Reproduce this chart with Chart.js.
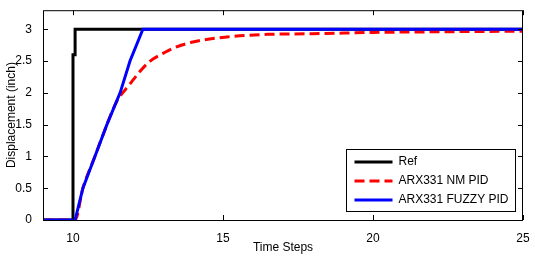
<!DOCTYPE html>
<html>
<head>
<meta charset="utf-8">
<script src="https://cdn.jsdelivr.net/npm/chart.js@4.4.1/dist/chart.umd.min.js"></script>
<style>
  html, body { margin: 0; padding: 0; background: #fff; }
  #wrap { width: 535px; height: 259px; }
</style>
</head>
<body>
<div id="wrap"><canvas id="chart" width="535" height="259"></canvas></div>
<script>
// values
const refX = [9, 10, 10, 10.07, 10.07, 25];
const refY = [0, 0, 2.6, 2.6, 3, 3];

const nmX = [9, 10.07, 10.33, 10.73, 11.13, 11.3, 11.47, 11.9, 12.2, 12.57, 13.0, 13.33, 14.0, 15.13, 16.5, 18, 20, 22, 25];
const nmY = [0, 0, 0.5, 1.0, 1.5, 1.7, 1.875, 2.14, 2.32, 2.5, 2.62, 2.7, 2.8, 2.88, 2.92, 2.93, 2.95, 2.96, 2.97];

const fuzzyX = [9, 10.07, 10.33, 10.73, 11.13, 11.57, 11.9, 12.33, 25];
const fuzzyY = [0, 0, 0.5, 1.0, 1.5, 2.0, 2.5, 3.0, 3.0];

const xTicks = [10, 15, 20, 25];
const yTicks = [0, 0.5, 1, 1.5, 2, 2.5, 3];

const FONT = "Liberation Sans, Arial, sans-serif";

const toPts = (xs, ys) => xs.map((x, i) => ({ x: x, y: ys[i] }));

// MATLAB style frame, inward ticks and boxed legend
const matlabFrame = {
  id: "matlabFrame",
  afterDraw(chart) {
    const { ctx, chartArea: a, scales } = chart;
    ctx.save();
    ctx.strokeStyle = "#000";
    ctx.lineWidth = 1;
    ctx.strokeRect(a.left + 0.5, a.top + 0.5, a.right - a.left - 1, a.bottom - a.top);

    ctx.beginPath();
    xTicks.forEach(v => {
      const px = Math.round(scales.x.getPixelForValue(v)) + 0.5;
      ctx.moveTo(px, a.bottom); ctx.lineTo(px, a.bottom - 5);
      ctx.moveTo(px, a.top); ctx.lineTo(px, a.top + 5);
    });
    yTicks.forEach(v => {
      const py = Math.round(scales.y.getPixelForValue(v)) + 0.5;
      ctx.moveTo(a.left, py); ctx.lineTo(a.left + 5, py);
      ctx.moveTo(a.right, py); ctx.lineTo(a.right - 5, py);
    });
    ctx.stroke();

    // legend
    const bx = 346.5, by = 149.5, bw = 169, bh = 62;
    ctx.fillStyle = "#fff";
    ctx.fillRect(bx, by, bw, bh);
    ctx.strokeRect(bx, by, bw, bh);
    ctx.font = "12px " + FONT;
    ctx.textBaseline = "middle";
    chart.data.datasets.forEach((ds, i) => {
      const y = by + 12.5 + i * 19;
      ctx.beginPath();
      ctx.strokeStyle = ds.borderColor;
      ctx.lineWidth = 3;
      ctx.setLineDash(ds.borderDash || []);
      ctx.moveTo(bx + 8, y); ctx.lineTo(bx + 46, y);
      ctx.stroke();
      ctx.setLineDash([]);
      ctx.fillStyle = "#000";
      ctx.fillText(ds.label, bx + 52, y);
    });
    ctx.restore();
  }
};

new Chart(document.getElementById("chart"), {
  type: "line",
  data: {
    datasets: [
      { label: "Ref", data: toPts(refX, refY), borderColor: "#000000", borderWidth: 3, order: 3 },
      { label: "ARX331 NM PID", data: toPts(nmX, nmY), borderColor: "#ff0000", borderWidth: 3, borderDash: [10, 5], order: 2, cubicInterpolationMode: "monotone" },
      { label: "ARX331 FUZZY PID", data: toPts(fuzzyX, fuzzyY), borderColor: "#0000ff", borderWidth: 3, order: 1 }
    ]
  },
  options: {
    responsive: false,
    animation: false,
    elements: { point: { radius: 0 }, line: { tension: 0, borderJoinStyle: "miter" } },
    layout: { padding: { top: 9, right: 12, left: 0, bottom: 0 } },
    plugins: { legend: { display: false }, tooltip: { enabled: false } },
    scales: {
      x: {
        type: "linear", min: 9, max: 25,
        afterBuildTicks: s => { s.ticks = xTicks.map(v => ({ value: v })); },
        afterFit: s => { s.height = 39; },
        grid: { display: false },
        border: { display: false },
        ticks: { color: "#000", font: { family: FONT, size: 12 }, padding: 3, maxRotation: 0, callback: v => String(v) },
        title: { display: true, text: "Time Steps", color: "#000", font: { family: FONT, size: 12 }, padding: { top: 1 } }
      },
      y: {
        type: "linear", min: 0, max: 3.3,
        afterBuildTicks: s => { s.ticks = yTicks.map(v => ({ value: v })); },
        afterFit: s => { s.width = 43; },
        grid: { display: false },
        border: { display: false },
        ticks: { color: "#000", font: { family: FONT, size: 12 }, padding: 3, callback: v => String(v) },
        title: { display: true, text: "Displacement (inch)", color: "#000", font: { family: FONT, size: 12 }, padding: { bottom: 1 } }
      }
    }
  },
  plugins: [matlabFrame]
});
</script>
</body>
</html>
